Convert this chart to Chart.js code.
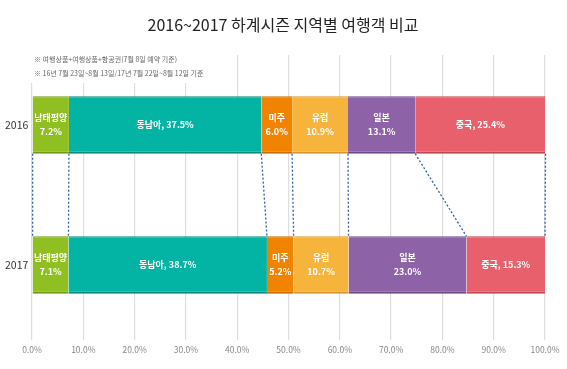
<!DOCTYPE html>
<html>
<head>
<meta charset="utf-8">
<script src="https://cdn.jsdelivr.net/npm/chart.js@4/dist/chart.umd.min.js"></script>
<style>
  html, body { margin: 0; padding: 0; background: #fff; }
  #wrap { width: 567px; height: 369px; position: relative; }
</style>
</head>
<body>
<div id="wrap"><canvas id="chart"></canvas></div>
<script>
// data
const years = ['2016', '2017'];
const regions = ['남태평양', '동남아', '미주', '유럽', '일본', '중국'];
const share2016 = [7.2, 37.5, 6.0, 10.9, 13.1, 25.4];
const share2017 = [7.1, 38.7, 5.2, 10.7, 23.0, 15.3];
const oneLine = [false, true, false, false, false, true]; // "동남아, 37.5%" style
const tickValues = [0, 10, 20, 30, 40, 50, 60, 70, 80, 90, 100];
const titleText = '2016~2017 하계시즌 지역별 여행객 비교';
const notes = ['※ 여행상품+여행상품+항공권(7월 8일 예약 기준)', '※ 16년 7월 23일~8월 13일/17년 7월 22일~8월 12일 기준'];

const fills = ['#8fbf21', '#03b3a3', '#f08300', '#f7b43c', '#8d62a7', '#e8606b'];
const edges = ['#6f9a14', '#028a7e', '#c96a00', '#d6952a', '#6d4a88', '#c44550'];
const FONT = '"Noto Sans CJK KR", "Noto Sans", sans-serif';

const datasets = regions.map((name, i) => ({
  label: name,
  data: [share2016[i], share2017[i]],
  backgroundColor: fills[i],
  borderColor: edges[i],
  borderWidth: { top: 1, bottom: 2, left: 0, right: 0 },
  borderSkipped: false,
  barPercentage: 0.82,
  categoryPercentage: 0.5
}));

// title + notes on top
const headerPlugin = {
  id: 'header',
  afterDraw(chart) {
    const ctx = chart.ctx;
    ctx.save();
    ctx.fillStyle = '#222';
    ctx.font = '16px ' + FONT;
    ctx.textAlign = 'center';
    ctx.textBaseline = 'middle';
    ctx.fillText(titleText, 283, 25);
    // white box so the grid does not run through the notes
    ctx.fillStyle = '#fff';
    ctx.fillRect(chart.chartArea.left - 2, 50, 185, 33);
    ctx.fillStyle = '#666';
    ctx.font = '7px ' + FONT;
    ctx.textAlign = 'left';
    notes.forEach((t, i) => ctx.fillText(t, 34, 59 + i * 14));
    ctx.restore();
  }
};

// dashed lines joining segment edges of the two bars
const connectorPlugin = {
  id: 'connectors',
  afterDatasetsDraw(chart) {
    const ctx = chart.ctx;
    const first = chart.getDatasetMeta(0).data;
    ctx.save();
    ctx.strokeStyle = '#2f5f9e';
    ctx.lineWidth = 1.3;
    ctx.setLineDash([2, 2]);
    const top = first[0], bot = first[1];
    const y1 = top.y + top.height / 2;
    const y2 = bot.y - bot.height / 2;
    const edgesX = [[top.base, bot.base]];
    regions.forEach((_, i) => {
      const m = chart.getDatasetMeta(i).data;
      edgesX.push([m[0].x, m[1].x]);
    });
    edgesX.forEach(([a, b]) => {
      ctx.beginPath();
      ctx.moveTo(a, y1);
      ctx.lineTo(b, y2);
      ctx.stroke();
    });
    ctx.restore();
  }
};

// labels inside the segments
const labelPlugin = {
  id: 'segLabels',
  afterDatasetsDraw(chart) {
    const ctx = chart.ctx;
    ctx.save();
    ctx.fillStyle = '#fff';
    ctx.font = 'bold 9px ' + FONT;
    ctx.textAlign = 'center';
    ctx.textBaseline = 'middle';
    chart.data.datasets.forEach((ds, i) => {
      chart.getDatasetMeta(i).data.forEach((el, j) => {
        const cx = (el.x + el.base) / 2;
        const v = ds.data[j].toFixed(1) + '%';
        if (oneLine[i]) {
          ctx.fillText(ds.label + ', ' + v, cx, el.y);
        } else {
          ctx.fillText(ds.label, cx, el.y - 7);
          ctx.fillText(v, cx, el.y + 7);
        }
      });
    });
    ctx.restore();
  }
};

new Chart(document.getElementById('chart'), {
  type: 'bar',
  data: { labels: years, datasets },
  options: {
    indexAxis: 'y',
    responsive: true,
    maintainAspectRatio: false,
    animation: false,
    layout: { padding: { top: 55, right: 22, left: 5, bottom: 0 } },
    plugins: {
      legend: { display: false },
      tooltip: { enabled: false }
    },
    scales: {
      x: {
        stacked: true,
        min: 0,
        max: 100,
        afterBuildTicks: (axis) => { axis.ticks = tickValues.map(v => ({ value: v })); },
        afterFit: (axis) => { axis.height = 34; },
        grid: { color: '#dedede', lineWidth: 1.2, tickLength: 5 },
        border: { display: false },
        ticks: {
          color: '#888',
          padding: 5,
          maxRotation: 0,
          font: { family: FONT, size: 8.5 },
          callback: (v) => Number(v).toFixed(1) + '%'
        }
      },
      y: {
        stacked: true,
        afterFit: (axis) => { axis.width = 27; },
        grid: { display: false },
        border: { display: false },
        ticks: { color: '#333', padding: 4, crossAlign: 'far', font: { family: FONT, size: 10.5 } }
      }
    }
  },
  plugins: [headerPlugin, connectorPlugin, labelPlugin]
});
</script>
</body>
</html>
